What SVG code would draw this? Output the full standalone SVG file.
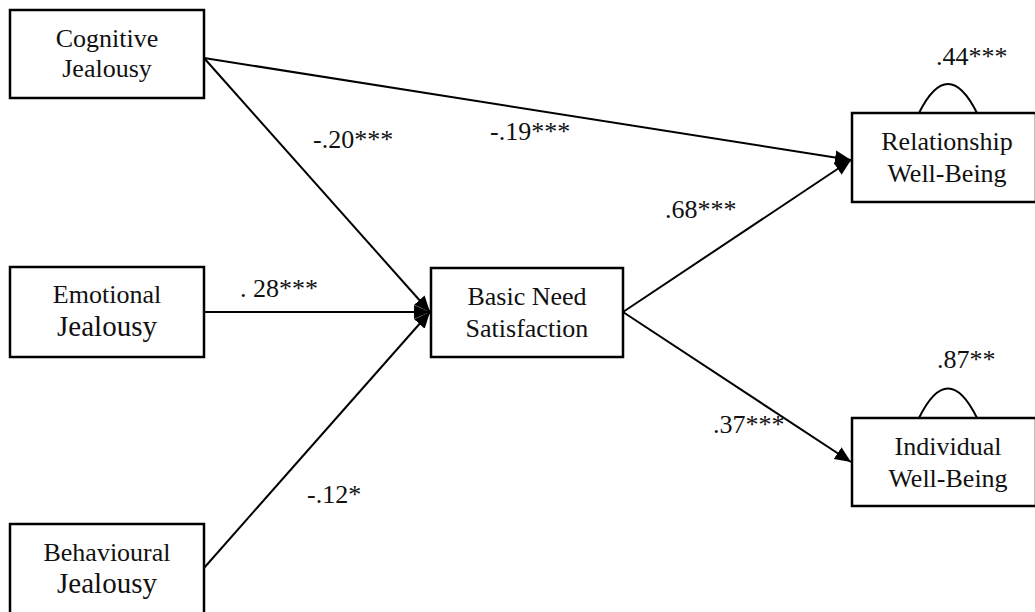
<svg xmlns="http://www.w3.org/2000/svg" width="1035" height="612" viewBox="0 0 1035 612">
<style>
.box{fill:#fff;stroke:#000;stroke-width:2.5}
.t{font-family:"Liberation Serif","Times New Roman",serif;font-size:26px;fill:#111;text-anchor:middle}
.lb{font-family:"Liberation Serif","Times New Roman",serif;font-size:26px;fill:#111}
.big{font-size:29px}
.ln{stroke:#000;stroke-width:2;fill:none}
</style>
<defs>
<marker id="ah" markerUnits="userSpaceOnUse" markerWidth="18" markerHeight="16" refX="16" refY="8" orient="auto">
<path d="M0,1 L16,8 L0,15 Z" fill="#000"/>
</marker>
</defs>
<rect width="1035" height="612" fill="#fff"/>
<g id="connectors">
<line class="ln" x1="204" y1="58" x2="851" y2="160" marker-end="url(#ah)"/>
<line class="ln" x1="204" y1="58" x2="430" y2="312" marker-end="url(#ah)"/>
<line class="ln" x1="204" y1="312" x2="430" y2="312" marker-end="url(#ah)"/>
<line class="ln" x1="204" y1="568" x2="430" y2="312" marker-end="url(#ah)"/>
<line class="ln" x1="623" y1="312" x2="851" y2="160" marker-end="url(#ah)"/>
<line class="ln" x1="623" y1="312" x2="851" y2="462" marker-end="url(#ah)"/>
<path class="ln" d="M919,113 Q948,55 977,113"/>
<path class="ln" d="M919,418 Q948,359 977,418"/>
</g>
<g id="labels">
<text class="lb" x="490" y="140">-.19***</text>
<text class="lb" x="313" y="148">-.20***</text>
<text class="lb" x="240" y="297">. 28***</text>
<text class="lb" x="307" y="503">-.12*</text>
<text class="lb" x="665" y="218">.68***</text>
<text class="lb" x="713" y="433">.37***</text>
<text class="lb" x="936" y="65">.44***</text>
<text class="lb" x="937" y="368">.87**</text>
</g>
<g id="cognitive">
<rect class="box" x="10" y="10" width="194" height="88"/>
<text class="t" x="107" y="47">Cognitive</text>
<text class="t" x="107" y="77">Jealousy</text>
</g>
<g id="emotional">
<rect class="box" x="10" y="267" width="194" height="90"/>
<text class="t" x="107" y="303">Emotional</text>
<text class="t big" x="107" y="336">Jealousy</text>
</g>
<g id="behavioural">
<rect class="box" x="10" y="524" width="194" height="94"/>
<text class="t" x="107" y="561">Behavioural</text>
<text class="t big" x="107" y="593">Jealousy</text>
</g>
<g id="basic-need">
<rect class="box" x="431" y="268" width="192" height="89"/>
<text class="t" x="527" y="305">Basic Need</text>
<text class="t" x="527" y="337">Satisfaction</text>
</g>
<g id="relationship">
<rect class="box" x="852" y="113" width="184" height="89"/>
<text class="t" x="947" y="150">Relationship</text>
<text class="t" x="947" y="182">Well-Being</text>
</g>
<g id="individual">
<rect class="box" x="852" y="418" width="184" height="88"/>
<text class="t" x="948" y="455">Individual</text>
<text class="t" x="948" y="487">Well-Being</text>
</g>
</svg>
